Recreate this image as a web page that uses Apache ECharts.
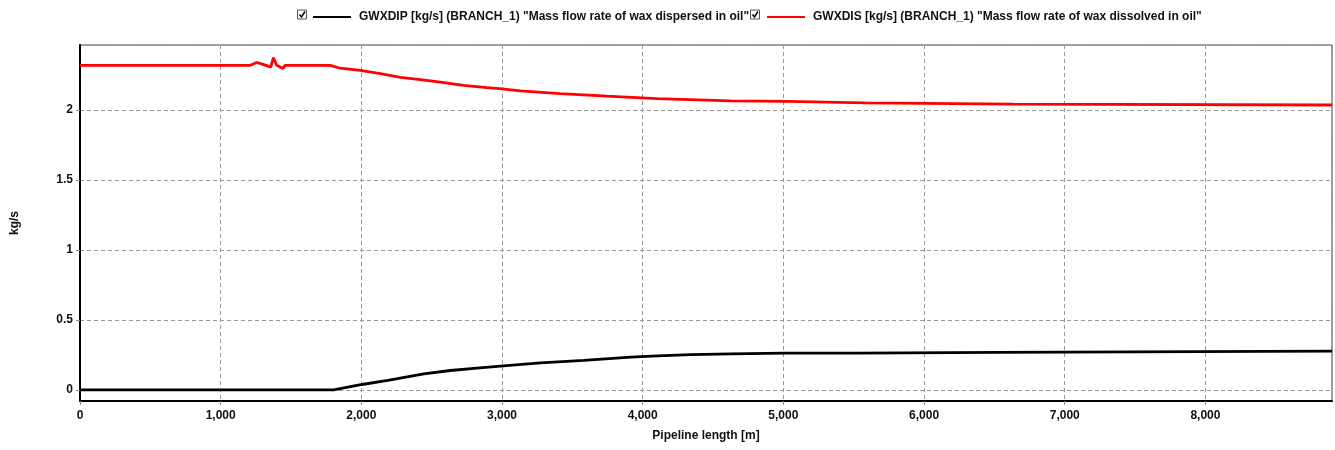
<!DOCTYPE html>
<html>
<head>
<meta charset="utf-8">
<script src="https://cdn.jsdelivr.net/npm/echarts@6/dist/echarts.min.js"></script>
<style>
    html, body { margin: 0; padding: 0; background: #fff; }
    #chart { width: 1335px; height: 450px; }
</style>
</head>
<body>
<div id="chart"></div>
<script>
    // pipeline length [m] / mass flow [kg/s]
    var dissolvedX = [0, 1210, 1257, 1302, 1356, 1375, 1399, 1423, 1444, 1458, 1779, 1850, 1992, 2135, 2277, 2420, 2562, 2726, 2892, 3000, 3129, 3413, 3745, 4101, 4623, 5027, 5030, 5580, 5585, 6633, 6638, 8900];
    var dissolvedY = [2.32, 2.32, 2.34, 2.326, 2.307, 2.374, 2.32, 2.307, 2.298, 2.32, 2.32, 2.299, 2.284, 2.26, 2.234, 2.218, 2.199, 2.177, 2.16, 2.151, 2.137, 2.118, 2.099, 2.082, 2.065, 2.062, 2.055, 2.051, 2.045, 2.042, 2.036, 2.036];
    var dispersedX = [0, 1803, 2005, 2188, 2444, 2633, 2822, 2988, 3273, 3581, 3915, 4105, 4342, 4626, 5005, 5530, 5535, 6520, 6525, 8900];
    var dispersedY = [0, 0, 0.038, 0.067, 0.114, 0.138, 0.155, 0.169, 0.193, 0.21, 0.233, 0.243, 0.252, 0.257, 0.262, 0.262, 0.268, 0.268, 0.277, 0.277];
    var names = [
        'GWXDIP [kg/s] (BRANCH_1) "Mass flow rate of wax dispersed in oil"',
        'GWXDIS [kg/s] (BRANCH_1) "Mass flow rate of wax dissolved in oil"'
    ];

    function pairs(xs, ys) {
        var out = [];
        for (var i = 0; i < xs.length; i++) out.push([xs[i], ys[i]]);
        return out;
    }

    function checkbox(x, y) {
        return {
            type: 'group', left: x, top: y,
            children: [
                { type: 'rect', shape: { x: 0, y: 0, width: 9, height: 9 }, style: { fill: '#fff', stroke: '#555', lineWidth: 1 } },
                { type: 'polyline', shape: { points: [[2, 4.5], [4, 7], [7.5, 1.5]] }, style: { stroke: '#000', lineWidth: 1.5, fill: null } }
            ]
        };
    }

    var font = { fontFamily: 'Liberation Sans', fontWeight: 'bold', fontSize: 12, color: '#111' };
    var legendBase = {
        orient: 'horizontal', top: 11, padding: 0, icon: 'rect', itemWidth: 38, itemHeight: 2, itemGap: 18,
        textStyle: { fontFamily: 'Liberation Sans', fontWeight: 'bold', fontSize: 12, color: '#111', padding: [0, 0, 0, 3] }
    };

    var Chart = echarts.init(document.getElementById('chart'));
    Chart.setOption({
        animation: false,
        backgroundColor: '#fff',
        legend: [
            Object.assign({}, legendBase, { left: 313, data: [names[0]] }),
            Object.assign({}, legendBase, { left: 767, data: [names[1]] })
        ],
        graphic: [checkbox(297, 9), checkbox(750, 9)],
        grid: { left: 80, right: 3, top: 45, bottom: 49, show: true, borderColor: '#444', borderWidth: 1 },
        xAxis: {
            type: 'value', min: 0, max: 8900, interval: 1000,
            name: 'Pipeline length [m]', nameLocation: 'middle', nameGap: 29,
            nameTextStyle: font,
            axisLine: { onZero: false, lineStyle: { color: '#000', width: 2 } },
            axisTick: { show: true, length: 4, lineStyle: { color: '#888' } },
            axisLabel: Object.assign({ margin: 9, showMaxLabel: false, formatter: function (v) { return v.toLocaleString('en-US'); } }, font),
            splitLine: { show: true, lineStyle: { color: '#999', type: [4, 3], width: 1 } }
        },
        yAxis: {
            type: 'value', min: -0.08, max: 2.465, splitNumber: 5,
            name: 'kg/s', nameLocation: 'middle', nameGap: 59, nameRotate: 90,
            nameTextStyle: font,
            axisLine: { show: true, onZero: false, lineStyle: { color: '#000', width: 2 } },
            axisTick: { show: true, length: 4, lineStyle: { color: '#888' } },
            axisLabel: Object.assign({ margin: 7, showMinLabel: false, showMaxLabel: false }, font),
            splitLine: { show: true, lineStyle: { color: '#999', type: [4, 3], width: 1 } }
        },
        series: [
            { name: names[0], type: 'line', data: pairs(dispersedX, dispersedY), showSymbol: false, color: '#000', lineStyle: { color: '#000', width: 2.8 } },
            { name: names[1], type: 'line', data: pairs(dissolvedX, dissolvedY), showSymbol: false, color: '#ff0000', lineStyle: { color: '#ff0000', width: 2.8 } }
        ]
    });
</script>
</body>
</html>
